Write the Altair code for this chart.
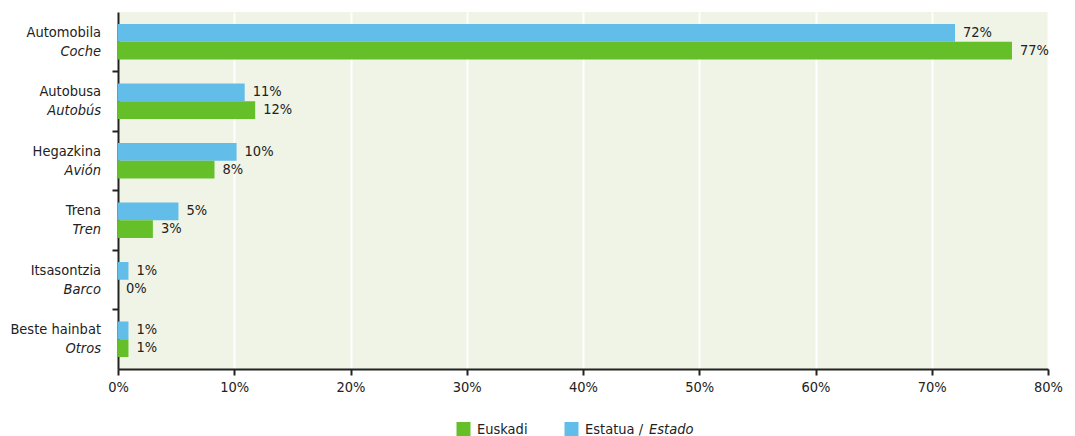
import altair as alt
import pandas as pd

basque = ["Automobila", "Autobusa", "Hegazkina", "Trena", "Itsasontzia", "Beste hainbat"]
spanish = ["Coche", "Autobús", "Avión", "Tren", "Barco", "Otros"]
euskadi = [76.9, 11.8, 8.3, 3.0, 0.0, 0.9]
estatua = [72.0, 10.9, 10.2, 5.2, 0.9, 0.9]
euskadi_lbl = ["77%", "12%", "8%", "3%", "0%", "1%"]
estatua_lbl = ["72%", "11%", "10%", "5%", "1%", "1%"]
series = ["Estatua / Estado", "Euskadi"]
colors = ["#63bde9", "#64bf28"]
x_ticks = [0, 10, 20, 30, 40, 50, 60, 70, 80]

FONT = "DejaVu Sans Condensed"
FS = 14.5

rows = []
for b, s, eu, es, eul, esl in zip(basque, spanish, euskadi, estatua, euskadi_lbl, estatua_lbl):
    rows.append(dict(cat=b, sp=s, series=series[0], value=es, label=esl))
    rows.append(dict(cat=b, sp=s, series=series[1], value=eu, label=eul))
df = pd.DataFrame(rows)
cats_df = pd.DataFrame({"cat": basque, "sp": spanish})

y_enc = alt.Y(
    "cat:N", sort=basque, title=None,
    scale=alt.Scale(paddingInner=0, paddingOuter=0),
    axis=alt.Axis(labels=False, values=basque[1:], bandPosition=0, tickSize=6,
                  tickColor="#222", tickWidth=2, domainColor="#222", domainWidth=2,
                  grid=False, title=None),
)
x_enc = alt.X(
    "value:Q", title=None,
    scale=alt.Scale(domain=[0, 80], nice=False),
    axis=alt.Axis(values=x_ticks, labelExpr="datum.value + '%'", grid=True,
                  gridColor="white", gridWidth=2, tickColor="#222", tickWidth=2,
                  tickSize=6, domainColor="#222", domainWidth=2, labelFont=FONT,
                  labelFontSize=FS, labelColor="#222", labelPadding=5,
                  labelFlush=False, title=None),
)
yoff = alt.YOffset("series:N", sort=series,
                   scale=alt.Scale(paddingOuter=0.675, paddingInner=0))

bars = alt.Chart(df).mark_bar().encode(
    x=x_enc, y=y_enc, yOffset=yoff,
    color=alt.Color("series:N", scale=alt.Scale(domain=series, range=colors), legend=None),
)
vals = alt.Chart(df).mark_text(align="left", baseline="middle", dx=8, font=FONT,
                               fontSize=FS, color="#222").encode(
    x=x_enc, y=y_enc, yOffset=yoff, text="label:N")

lab1 = alt.Chart(cats_df).mark_text(align="right", baseline="alphabetic", dy=-5,
                                    font=FONT, fontSize=FS, color="#222").encode(
    y=y_enc, x=alt.value(-17), text="cat:N")
lab2 = alt.Chart(cats_df).mark_text(align="right", baseline="alphabetic", dy=14,
                                    font=FONT, fontSize=FS, fontStyle="italic",
                                    color="#222").encode(
    y=y_enc, x=alt.value(-17), text="sp:N")

one = pd.DataFrame({"k": [0]})
sq_g = alt.Chart(one).mark_square(size=196, opacity=1, color=colors[1]).encode(
    x=alt.value(345.5), y=alt.value(417))
sq_b = alt.Chart(one).mark_square(size=196, opacity=1, color=colors[0]).encode(
    x=alt.value(453.5), y=alt.value(417))
t_g = alt.Chart(one).mark_text(align="left", baseline="alphabetic", font=FONT, fontSize=FS,
                               color="#222", text="Euskadi").encode(
    x=alt.value(359), y=alt.value(422))
t_b1 = alt.Chart(one).mark_text(align="left", baseline="alphabetic", font=FONT, fontSize=FS,
                                color="#222", text="Estatua /").encode(
    x=alt.value(467), y=alt.value(422))
t_b2 = alt.Chart(one).mark_text(align="left", baseline="alphabetic", font=FONT, fontSize=FS,
                                fontStyle="italic", color="#222", text="Estado").encode(
    x=alt.value(531), y=alt.value(422))

chart = alt.layer(bars, vals, lab1, lab2, sq_g, sq_b, t_g, t_b1, t_b2).properties(
    width=930, height=357,
    autosize=alt.AutoSizeParams(type="none"),
    padding={"left": 110, "top": 4, "right": 19, "bottom": 67},
).configure_view(fill="#eff4e6", stroke=None)

chart.save("out.html", embed_options={"renderer": "svg", "actions": False})
